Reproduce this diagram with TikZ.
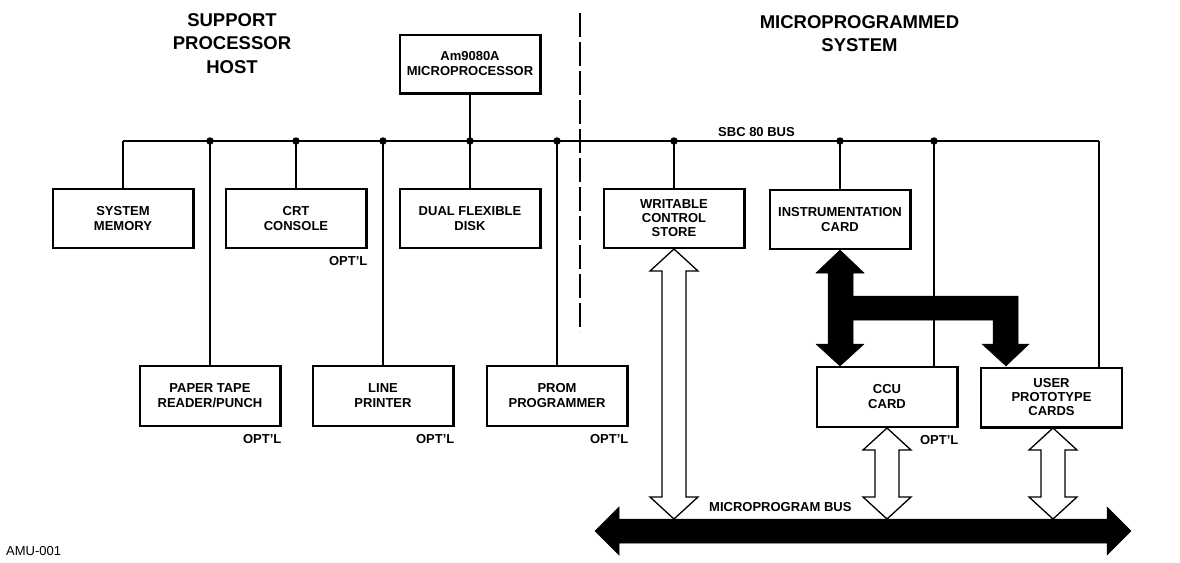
\documentclass[tikz,border=0pt]{standalone}
\usepackage{fontspec}
\setmainfont{Liberation Sans}
\usetikzlibrary{calc}
\newcommand{\boxfont}{\fontsize{13}{15}\selectfont\bfseries}
\newcommand{\tightfont}{\fontsize{13}{14}\selectfont\bfseries}
\newcommand{\titlefont}{\fontsize{18.5}{23.5}\selectfont\bfseries}
\newcommand{\hollowdbl}[2]{%
  \draw[hollow] (#1) -- ++(24,22) -- ++(-12,0) -- ($(#2)+(12,-22)$) -- ++(12,0) -- (#2)
    -- ++(-24,-22) -- ++(12,0) -- ($(#1)+(-12,22)$) -- ++(-12,0) -- cycle;}
\begin{document}
\begin{tikzpicture}[x=1pt,y=-1pt,
  box/.style={draw, line width=2.4pt, minimum width=140.6pt, minimum height=58.6pt, inner sep=0pt, align=center, font=\boxfont},
  lowbox/.style={box, minimum height=59.6pt},
  conn/.style={line width=1.4pt},
  dot/.style={circle, fill, inner sep=0pt, minimum size=7.5pt},
  hollow/.style={draw, fill=white, line width=1.3pt, line join=miter},
  solidarrow/.style={fill=black, draw=black, line width=0.5pt, line join=miter},
  lbl/.style={font=\boxfont, inner sep=0pt},
  title/.style={font=\titlefont, align=center, inner sep=0pt},
  divider/.style={line width=2.8pt, dash pattern=on 24pt off 5pt}
]
\useasboundingbox (0,0) rectangle (1180,562);
\fill[white] (0,0) rectangle (1180,562);

% titles
\node[title] (t1) at (232,43.5) {SUPPORT\\PROCESSOR\\HOST};
\node[title] (t2) at (859.5,33.5) {MICROPROGRAMMED\\SYSTEM};

% divider
\coordinate (divT) at (580,13);
\coordinate (divB) at (580,332);
\draw[divider] (divT) -- (divB);

% boxes
\node[box] (cpu) at (470,64) {Am9080A\\MICROPROCESSOR};
\node[box] (sm) at (123,218.5) {SYSTEM\\MEMORY};
\node[box] (crt) at (296,218.5) {CRT\\CONSOLE};
\node[box] (disk) at (470,218.5) {DUAL FLEXIBLE\\DISK};
\node[box, font=\tightfont] (wcs) at (674,218.5) {WRITABLE\\CONTROL\\STORE};
\node[box] (instr) at (840,219.5) {INSTRUMENTATION\\CARD};
\node[lowbox] (ptape) at (210,396) {PAPER TAPE\\READER/PUNCH};
\node[lowbox] (lp) at (383,396) {LINE\\PRINTER};
\node[lowbox] (prom) at (557,396) {PROM\\PROGRAMMER};
\node[lowbox] (ccu) at (887,397) {CCU\\CARD};
\node[lowbox, font=\tightfont] (user) at (1051.5,397.5) {USER\\PROTOTYPE\\CARDS};

% OPT'L labels
\node[lbl, anchor=east] (o1) at ([yshift=-12pt]crt.south east) {OPT'L};
\node[lbl, anchor=east] (o2) at ([yshift=-12.5pt]ptape.south east) {OPT'L};
\node[lbl, anchor=east] (o3) at ([yshift=-12.5pt]lp.south east) {OPT'L};
\node[lbl, anchor=east] (o4) at ([yshift=-12.5pt]prom.south east) {OPT'L};
\node[lbl, anchor=east] (o5) at ([yshift=-12.5pt]ccu.south east) {OPT'L};

% SBC 80 bus
\coordinate (busL) at (123,141);
\coordinate (busR) at (1099,141);
\draw[conn] (busL) -- (busR);
\node[lbl] (sbc) at (756.5,132) {SBC 80 BUS};
\node[dot] (d1) at (210,141) {};
\node[dot] (d2) at (296,141) {};
\node[dot] (d3) at (383,141) {};
\node[dot] (d4) at (470,141) {};
\node[dot] (d5) at (557,141) {};
\node[dot] (d6) at (674,141) {};
\node[dot] (d7) at (840,141) {};
\node[dot] (d8) at (934,141) {};

\draw[conn] (busL) -- (sm.north);
\draw[conn] (d1.center) -- (ptape.north);
\draw[conn] (d2.center) -- (crt.north);
\draw[conn] (d3.center) -- (lp.north);
\draw[conn] (cpu.south) -- (disk.north);
\draw[conn] (d5.center) -- (prom.north);
\draw[conn] (d6.center) -- (wcs.north);
\draw[conn] (d7.center) -- (instr.north);
\draw[conn] (d8.center) -- (d8.center |- ccu.north);
\draw[conn] (busR) -- (busR |- user.north);

% thick black branching arrow
\coordinate (bt) at (instr.south);
\coordinate (bb1) at (840,366);
\coordinate (bb2) at (1006,366);
\fill[solidarrow] (bt) -- (864,273) -- (853,273) -- (853,296) -- (1018,296) -- (1018,344) -- (1029,344)
  -- (bb2) -- (982,344) -- (993,344) -- (993,320) -- (853,320) -- (853,344) -- (864,344)
  -- (bb1) -- (816,344) -- (828,344) -- (828,273) -- (816,273) -- cycle;

% microprogram bus
\coordinate (mbL) at (595,531);
\coordinate (mbR) at (1131,531);
\coordinate (mbTop) at (863,519);
\fill[solidarrow] (mbL) -- (619,507) -- (619,519) -- (1107,519) -- (1107,507) -- (mbR)
  -- (1107,555) -- (1107,543) -- (619,543) -- (619,555) -- cycle;
\node[lbl, anchor=west] (mbl) at (709,507) {MICROPROGRAM BUS};

% hollow double arrows
\coordinate (w1) at (wcs.south);
\coordinate (w2) at (wcs.south |- mbTop);
\hollowdbl{w1}{w2}
\coordinate (c1) at (ccu.south);
\coordinate (c2) at (ccu.south |- mbTop);
\hollowdbl{c1}{c2}
\coordinate (u1) at (1053,428);
\coordinate (u2) at (u1 |- mbTop);
\hollowdbl{u1}{u2}

% figure id
\node[anchor=west, inner sep=0pt, font=\fontsize{13}{14}\selectfont] (amu) at (6,551) {AMU-001};
\end{tikzpicture}
\end{document}
